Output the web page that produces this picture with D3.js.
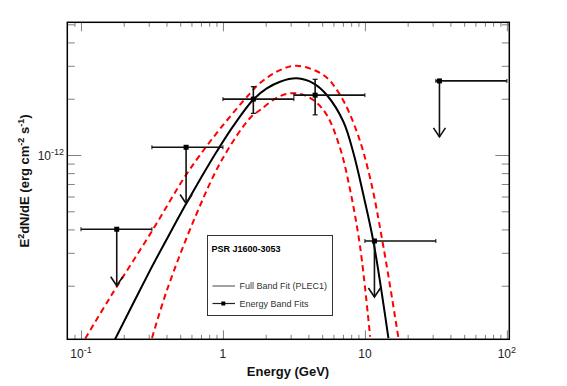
<!DOCTYPE html>
<html lang="en">
<head>
	<meta charset="UTF-8">
	<title>PSR J1600-3053 SED</title>
	<script src="https://d3js.org/d3.v7.min.js"></script>
	<style>
		body { margin: 0; background: #fff; }
		svg { display: block; }
	</style>
</head>
<body>
	<script type="text/javascript">
		// energy band fits (GeV, erg cm^-2 s^-1)
		const binLow = [0.1, 0.316, 1.0, 3.16, 10.0, 31.6];
		const binHigh = [0.316, 1.0, 3.16, 10.0, 31.6, 100];
		const bandE = [0.1786, 0.55, 1.637, 4.46, 11.67, 33.5];
		const bandFlux = [4.01e-13, 1.1e-12, 1.99e-12, 2.09e-12, 3.47e-13, 2.49e-12];
		const bandErrLow = [null, null, 1.67e-12, 1.64e-12, null, null];
		const bandErrHigh = [null, null, 2.32e-12, 2.54e-12, null, null];
		const upperLimit = [true, true, false, false, true, true];
		const arrowTo = [2.0e-13, 5.5e-13, null, null, 1.74e-13, 1.25e-12];

		// full band fit (PLEC1)
		const fitE = [0.1728, 0.3078, 0.4036, 0.4724, 0.5556, 0.6569, 0.9043, 1.184, 1.637, 2.036,
			2.526, 3.311, 4.335, 5.39, 7.055, 8.30, 9.76, 11.48, 14.64];
		const fitFlux = [1.026e-13, 2.43e-13, 3.57e-13, 4.45e-13, 5.56e-13, 6.94e-13, 1.043e-12, 1.431e-12, 1.98e-12, 2.27e-12,
			2.466e-12, 2.57e-12, 2.418e-12, 2.094e-12, 1.507e-12, 1.025e-12, 6.11e-13, 3.44e-13, 1.05e-13];

		// 1 sigma envelope (red dashed)
		const upE = [0.1072, 0.1609, 0.3165, 0.526, 0.6898, 0.9806, 1.552, 1.826, 2.526,
			3.311, 5.10, 6.69, 8.77, 10.88, 13.50, 17.22];
		const upFlux = [1.044e-13, 1.74e-13, 3.924e-13, 7.44e-13, 1.0e-12, 1.417e-12, 2.138e-12, 2.427e-12, 2.847e-12,
			3.0e-12, 2.677e-12, 2.094e-12, 1.332e-12, 7.53e-13, 3.23e-13, 1.051e-13];
		const loE = [0.3165, 0.4036, 0.639, 0.9806, 1.552, 1.826, 2.526, 3.311, 4.335, 5.39,
			6.69, 7.74, 9.25, 10.88];
		const loFlux = [1.051e-13, 1.897e-13, 4.68e-13, 9.40e-13, 1.577e-12, 1.740e-12, 2.067e-12, 2.138e-12, 1.968e-12, 1.636e-12,
			1.086e-12, 6.91e-13, 3.23e-13, 1.067e-13];

		const xTickValues = [0.1, 1, 10, 100];
		const xTickLabels = [["10", "-1"], ["1", ""], ["10", ""], ["10", "2"]];
		const yTickValues = [1e-12];
		const yTickLabels = [["10", "-12"]];

		const width = 567;
		const height = 386;
		const pLeft = 67.3, pRight = 509.3, pTop = 22.3, pBottom = 339.3;

		const xScale = d3.scaleLog().domain([0.0801, 104]).range([pLeft, pRight]);
		const yScale = d3.scaleLog().domain([1.034e-13, 5.125e-12]).range([pBottom, pTop]);

		const svg = d3.select("body")
			.append("svg")
			.attr("width", width)
			.attr("height", height);

		svg.append("clipPath").attr("id", "plot")
			.append("rect")
			.attr("x", pLeft).attr("y", pTop)
			.attr("width", pRight - pLeft).attr("height", pBottom - pTop);

		// minor tick values
		const xMinor = [];
		[0.01, 0.1, 1, 10].forEach(d => {
			for (let k = 2; k < 10; k++) {
				const v = d * k;
				if (v > 0.0801 && v < 104) xMinor.push(v);
			}
		});
		const yMinor = [];
		[1e-13, 1e-12].forEach(d => {
			for (let k = 2; k < 10; k++) {
				const v = d * k;
				if (v > 1.034e-13 && v < 5.125e-12) yMinor.push(v);
			}
		});

		function drawTicks(axisFn, scale, values, size, transform) {
			const g = svg.append("g")
				.attr("transform", transform)
				.call(axisFn(scale).tickValues(values).tickSize(size).tickFormat(""));
			g.select(".domain").remove();
			g.selectAll(".tick line").attr("stroke", "#808080").attr("stroke-width", 1);
		}

		drawTicks(d3.axisBottom, xScale, xMinor, -4.5, `translate(0,${pBottom})`);
		drawTicks(d3.axisBottom, xScale, xTickValues, -9, `translate(0,${pBottom})`);
		drawTicks(d3.axisTop, xScale, xMinor, -4.5, `translate(0,${pTop})`);
		drawTicks(d3.axisTop, xScale, xTickValues, -9, `translate(0,${pTop})`);
		drawTicks(d3.axisLeft, yScale, yMinor, -7.5, `translate(${pLeft},0)`);
		drawTicks(d3.axisLeft, yScale, yTickValues, -14, `translate(${pLeft},0)`);
		drawTicks(d3.axisRight, yScale, yMinor, -7.5, `translate(${pRight},0)`);
		drawTicks(d3.axisRight, yScale, yTickValues, -14, `translate(${pRight},0)`);

		// tick labels with superscripts
		const xl = svg.selectAll(".xlab")
			.data(xTickValues)
			.enter()
			.append("text")
			.attr("class", "xlab")
			.attr("x", d => xScale(d))
			.attr("y", 358)
			.attr("text-anchor", "middle")
			.attr("font-family", "Liberation Sans, Arial, sans-serif")
			.attr("font-size", "12px")
			.attr("fill", "#222");
		xl.append("tspan").text((d, i) => xTickLabels[i][0]);
		xl.append("tspan").attr("dy", -5).attr("font-size", "9px").text((d, i) => xTickLabels[i][1]);

		const yl = svg.selectAll(".ylab")
			.data(yTickValues)
			.enter()
			.append("text")
			.attr("class", "ylab")
			.attr("x", 64)
			.attr("y", d => yScale(d) + 5)
			.attr("text-anchor", "end")
			.attr("font-family", "Liberation Sans, Arial, sans-serif")
			.attr("font-size", "12px")
			.attr("fill", "#222");
		yl.append("tspan").text((d, i) => yTickLabels[i][0]);
		yl.append("tspan").attr("dy", -5).attr("font-size", "9px").text((d, i) => yTickLabels[i][1]);

		// axis titles
		svg.append("text")
			.attr("x", 288)
			.attr("y", 376)
			.attr("text-anchor", "middle")
			.attr("font-family", "Liberation Sans, Arial, sans-serif")
			.attr("font-size", "13px")
			.attr("font-weight", "bold")
			.attr("fill", "#111")
			.text("Energy (GeV)");

		const yt = svg.append("text")
			.attr("transform", "translate(29,181) rotate(-90)")
			.attr("text-anchor", "middle")
			.attr("font-family", "Liberation Sans, Arial, sans-serif")
			.attr("font-size", "13px")
			.attr("font-weight", "bold")
			.attr("fill", "#111");
		yt.append("tspan").text("E");
		yt.append("tspan").attr("dy", -5).attr("font-size", "9px").text("2");
		yt.append("tspan").attr("dy", 5).text("dN/dE (erg cm");
		yt.append("tspan").attr("dy", -5).attr("font-size", "9px").text("-2");
		yt.append("tspan").attr("dy", 5).text(" s");
		yt.append("tspan").attr("dy", -5).attr("font-size", "9px").text("-1");
		yt.append("tspan").attr("dy", 5).text(")");

		// curves
		const line = d3.line()
			.x(d => xScale(d[0]))
			.y(d => yScale(d[1]))
			.curve(d3.curveCatmullRom.alpha(0.5));

		const curves = svg.append("g").attr("clip-path", "url(#plot)");

		curves.append("path")
			.attr("d", line(upE.map((e, i) => [e, upFlux[i]])))
			.attr("fill", "none")
			.attr("stroke", "#ff0000")
			.attr("stroke-width", 2)
			.attr("stroke-dasharray", "6,4");

		curves.append("path")
			.attr("d", line(loE.map((e, i) => [e, loFlux[i]])))
			.attr("fill", "none")
			.attr("stroke", "#ff0000")
			.attr("stroke-width", 2)
			.attr("stroke-dasharray", "6,4");

		curves.append("path")
			.attr("d", line(fitE.map((e, i) => [e, fitFlux[i]])))
			.attr("fill", "none")
			.attr("stroke", "#000")
			.attr("stroke-width", 2);

		// energy band points
		const bands = bandE.map((e, i) => ({
			e: e, lo: binLow[i], hi: binHigh[i], f: bandFlux[i],
			fLo: bandErrLow[i], fHi: bandErrHigh[i], ul: upperLimit[i], to: arrowTo[i]
		}));

		const pts = svg.append("g")
			.attr("stroke", "#111")
			.attr("stroke-width", 1.6)
			.attr("fill", "none");

		pts.selectAll(".hbar")
			.data(bands)
			.enter()
			.append("line")
			.attr("x1", d => xScale(d.lo))
			.attr("x2", d => xScale(d.hi))
			.attr("y1", d => yScale(d.f))
			.attr("y2", d => yScale(d.f));

		pts.selectAll(".hcapL")
			.data(bands)
			.enter()
			.append("line")
			.attr("x1", d => xScale(d.lo))
			.attr("x2", d => xScale(d.lo))
			.attr("y1", d => yScale(d.f) - 2)
			.attr("y2", d => yScale(d.f) + 2)
			.attr("stroke-width", 1);

		pts.selectAll(".hcapR")
			.data(bands)
			.enter()
			.append("line")
			.attr("x1", d => xScale(d.hi))
			.attr("x2", d => xScale(d.hi))
			.attr("y1", d => yScale(d.f) - 2)
			.attr("y2", d => yScale(d.f) + 2)
			.attr("stroke-width", 1);

		const det = bands.filter(d => !d.ul);
		pts.selectAll(".vbar")
			.data(det)
			.enter()
			.append("line")
			.attr("x1", d => xScale(d.e))
			.attr("x2", d => xScale(d.e))
			.attr("y1", d => yScale(d.fHi))
			.attr("y2", d => yScale(d.fLo));

		["fHi", "fLo"].forEach(k => {
			pts.selectAll(".vcap" + k)
				.data(det)
				.enter()
				.append("line")
				.attr("x1", d => xScale(d.e) - 2.5)
				.attr("x2", d => xScale(d.e) + 2.5)
				.attr("y1", d => yScale(d[k]))
				.attr("y2", d => yScale(d[k]))
				.attr("stroke-width", 1.2);
		});

		const ul = bands.filter(d => d.ul);
		pts.selectAll(".arrow")
			.data(ul)
			.enter()
			.append("line")
			.attr("x1", d => xScale(d.e))
			.attr("x2", d => xScale(d.e))
			.attr("y1", d => yScale(d.f))
			.attr("y2", d => yScale(d.to));

		pts.selectAll(".head")
			.data(ul)
			.enter()
			.append("path")
			.attr("d", d => {
				const x = xScale(d.e), y = yScale(d.to);
				return `M${x - 6},${y - 9}L${x},${y}L${x + 6},${y - 9}`;
			});

		svg.selectAll(".sq")
			.data(bands)
			.enter()
			.append("rect")
			.attr("x", d => xScale(d.e) - 2.5)
			.attr("y", d => yScale(d.f) - 2.5)
			.attr("width", 5)
			.attr("height", 5)
			.attr("fill", "#000");

		// legend
		const lg = svg.append("g").attr("font-family", "Liberation Sans, Arial, sans-serif");
		lg.append("rect")
			.attr("x", 207.5).attr("y", 235.5)
			.attr("width", 125).attr("height", 80)
			.attr("fill", "#fff")
			.attr("stroke", "#333")
			.attr("stroke-width", 1);
		lg.append("text")
			.attr("x", 211.5).attr("y", 252)
			.attr("font-size", "9px")
			.attr("font-weight", "bold")
			.attr("fill", "#000")
			.text("PSR J1600-3053");
		lg.append("line")
			.attr("x1", 212.5).attr("x2", 235).attr("y1", 286).attr("y2", 286)
			.attr("stroke", "#444").attr("stroke-width", 1);
		lg.append("text")
			.attr("x", 239.5).attr("y", 289)
			.attr("font-size", "9px")
			.attr("fill", "#333")
			.text("Full Band Fit (PLEC1)");
		lg.append("line")
			.attr("x1", 212.5).attr("x2", 235).attr("y1", 303.5).attr("y2", 303.5)
			.attr("stroke", "#222").attr("stroke-width", 1.2);
		lg.append("rect")
			.attr("x", 221.3).attr("y", 301.5).attr("width", 4).attr("height", 4)
			.attr("fill", "#000");
		lg.append("text")
			.attr("x", 239.5).attr("y", 306.5)
			.attr("font-size", "9px")
			.attr("fill", "#333")
			.text("Energy Band Fits");

		// frame
		svg.append("rect")
			.attr("x", pLeft).attr("y", pTop)
			.attr("width", pRight - pLeft).attr("height", pBottom - pTop)
			.attr("fill", "none")
			.attr("stroke", "#000")
			.attr("stroke-width", 1.5);
	</script>
</body>
</html>
